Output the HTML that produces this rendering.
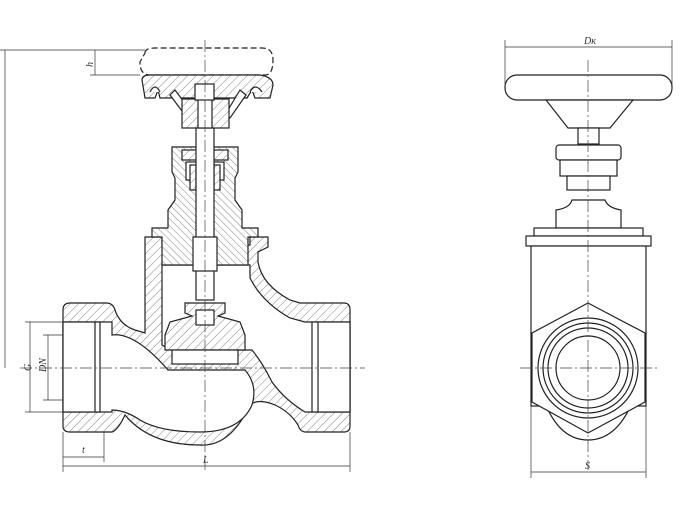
<!DOCTYPE html>
<html><head><meta charset="utf-8"><style>
html,body{margin:0;padding:0;background:#fff;}
svg{display:block;}
text{font-family:"Liberation Serif",serif;font-style:italic;font-size:10px;fill:#333;}
</style></head><body>
<svg width="693" height="505" viewBox="0 0 693 505" xmlns="http://www.w3.org/2000/svg">
<defs>
<pattern id="h" width="6" height="6" patternUnits="userSpaceOnUse" patternTransform="rotate(45)">
<rect width="6" height="6" fill="#fff"/><line x1="0" y1="0" x2="0" y2="6" stroke="#666" stroke-width="0.8"/>
</pattern>
<pattern id="h2" width="5" height="5" patternUnits="userSpaceOnUse" patternTransform="rotate(-45)">
<rect width="5" height="5" fill="#fff"/><line x1="0" y1="0" x2="0" y2="5" stroke="#666" stroke-width="0.8"/>
</pattern>
</defs>
<g stroke="#222" stroke-width="1.2" fill="none">
<!-- LEFT VIEW body outer -->
<path fill="url(#h)" d="M63,310 Q63,303 70,303 L106,303 Q113,303 115,310 Q120,325 135,330 L145,333 L145,237 L162,237 L162,245 L250,245 L250,237 L268,237 L268,247 L258,252 L258,262 Q262,285 290,300 L300,303 L344,303 Q350,303 350,310 L350,426 Q350,432 344,432 L306,432 Q300,432 298,425 Q290,412 275,405 Q258,398 250,405 Q230,447 200,445 Q150,445 125,415 Q118,430 112,432 L70,432 Q63,432 63,426 Z"/>
<!-- lower passage -->
<path fill="#fff" d="M63,322 L112,322 L112,335 Q135,332 168,370 L245,370 Q258,385 252,405 Q240,432 200,432 Q160,432 140,420 Q125,410 112,410 L112,412 L63,412 Z"/>
<!-- upper chamber -->
<path fill="#fff" d="M162,265 L250,265 L250,278 Q262,302 290,318 L305,322 L350,322 L350,412 L305,412 Q285,400 272,382 Q262,362 252,350 L172,350 L162,345 Z"/>
<!-- bores -->
<rect x="63" y="322" width="37" height="90" fill="#fff"/>
<line x1="95" y1="322" x2="95" y2="412"/>
<rect x="312" y="322" width="38" height="90" fill="#fff"/>
<line x1="318" y1="322" x2="318" y2="412"/>
<!-- bonnet -->
<path fill="url(#h2)" d="M152,228 L168,228 L168,210 L175,200 L175,178 L172,172 L172,147 L238,147 L238,172 L235,178 L235,200 L242,210 L242,228 L258,228 L258,237 L248,237 L248,265 L162,265 L162,237 L152,237 Z"/>
<rect x="182" y="150" width="46" height="10" fill="url(#h)"/>
<rect x="186" y="162" width="38" height="18" fill="#fff"/>
<rect x="190" y="165" width="6" height="25" fill="url(#h)"/>
<rect x="214" y="165" width="6" height="25" fill="url(#h)"/>
<!-- stem -->
<rect x="196" y="100" width="18" height="200" fill="#fff"/>
<rect x="193" y="237" width="24" height="34" fill="#fff"/>
<!-- disc -->
<path fill="url(#h)" d="M185,303 L225,303 L225,313 L218,316 L240,322 L245,335 L245,350 L165,350 L165,335 L170,322 L192,316 L185,313 Z"/>
<rect x="196" y="310" width="18" height="15" fill="#fff"/>
<rect x="172" y="350" width="66" height="14" fill="#fff"/>
<!-- handwheel left -->
<path fill="#fff" stroke-dasharray="6,3" d="M145,53 Q145,48 155,48 L262,48 Q273,48 273,60 Q273,75 265,75 L150,75 Q140,75 140,62 Z"/>
<path fill="url(#h)" d="M142,80 Q142,75 150,75 L260,75 Q273,77 273,85 L270,98 L255,98 L252,90 L247,98 L200,98 L160,98 L158,90 L155,98 L145,98 Z"/>
<path fill="#fff" d="M150,92 Q155,82 160,92 M250,92 Q255,82 262,92"/>
<path fill="#fff" d="M175,90 L190,110 L185,115 L170,95 Z M240,90 L225,115 L230,118 L246,95 Z"/>
<rect x="182" y="99" width="47" height="29" fill="url(#h)"/>
<rect x="198" y="99" width="14" height="29" fill="#fff"/>
<rect x="195" y="84" width="19" height="16" fill="#fff"/>
<!-- RIGHT VIEW -->
<rect x="505" y="75" width="167" height="25" rx="12" fill="#fff"/>
<path fill="#fff" d="M546,100 L633,100 L610,128 L568,128 Z"/>
<rect x="578" y="128" width="21" height="16" fill="#fff"/>
<rect x="556" y="145" width="65" height="15" rx="3" fill="#fff"/>
<rect x="560" y="160" width="57" height="16" fill="#fff"/>
<rect x="567" y="176" width="43" height="14" fill="#fff"/>
<path fill="#fff" d="M556,210 Q570,208 572,200 L605,200 Q608,208 621,210 L621,228 L556,228 Z"/>
<rect x="534" y="228" width="109" height="8" fill="#fff"/>
<rect x="526" y="236" width="125" height="10" fill="#fff"/>
<rect x="531" y="246" width="115" height="160" fill="#fff"/>
<path fill="#fff" d="M545,403 Q560,440 588,440 Q616,440 632,403 Z"/>
<path fill="#fff" d="M588,303 L645,333 L645,402 L588,433 L532,402 L532,333 Z"/>
<circle cx="588" cy="368" r="50"/><circle cx="588" cy="368" r="45"/><circle cx="588" cy="368" r="40"/><circle cx="588" cy="368" r="32"/>
</g>
<!-- centerlines -->
<g stroke="#444" stroke-width="0.7" stroke-dasharray="12,3,2,3" fill="none">
<line x1="205" y1="40" x2="205" y2="470"/>
<line x1="20" y1="368" x2="365" y2="368"/>
<line x1="588" y1="60" x2="588" y2="470"/>
<line x1="520" y1="368" x2="658" y2="368"/>
</g>
<!-- dimensions -->
<g stroke="#333" stroke-width="0.7" fill="none">
<line x1="0" y1="50" x2="145" y2="50"/><line x1="5" y1="50" x2="5" y2="368"/>
<line x1="90" y1="75" x2="140" y2="75"/><line x1="95" y1="50" x2="95" y2="75"/>
<line x1="25" y1="322" x2="63" y2="322"/><line x1="25" y1="412" x2="63" y2="412"/><line x1="30" y1="322" x2="30" y2="412"/>
<line x1="43" y1="335" x2="63" y2="335"/><line x1="43" y1="400" x2="63" y2="400"/><line x1="48" y1="335" x2="48" y2="400"/>
<line x1="63" y1="432" x2="63" y2="472"/><line x1="104" y1="432" x2="104" y2="462"/><line x1="350" y1="432" x2="350" y2="472"/>
<line x1="63" y1="457" x2="104" y2="457"/><line x1="63" y1="466" x2="350" y2="466"/>
<line x1="505" y1="40" x2="505" y2="85"/><line x1="672" y1="40" x2="672" y2="85"/><line x1="505" y1="47" x2="672" y2="47"/>
<line x1="531" y1="406" x2="531" y2="478"/><line x1="646" y1="406" x2="646" y2="478"/><line x1="531" y1="472" x2="646" y2="472"/>
</g>
<text x="86" y="66" transform="rotate(-90 90 63)">h</text>
<text x="24" y="372" transform="rotate(-90 27 368)">G</text>
<text x="38" y="372" transform="rotate(-90 42 368)">DN</text>
<text x="82" y="453">t</text>
<text x="203" y="463">L</text>
<text x="584" y="44">Dк</text>
<text x="585" y="469">S</text>
</svg>
</body></html>
